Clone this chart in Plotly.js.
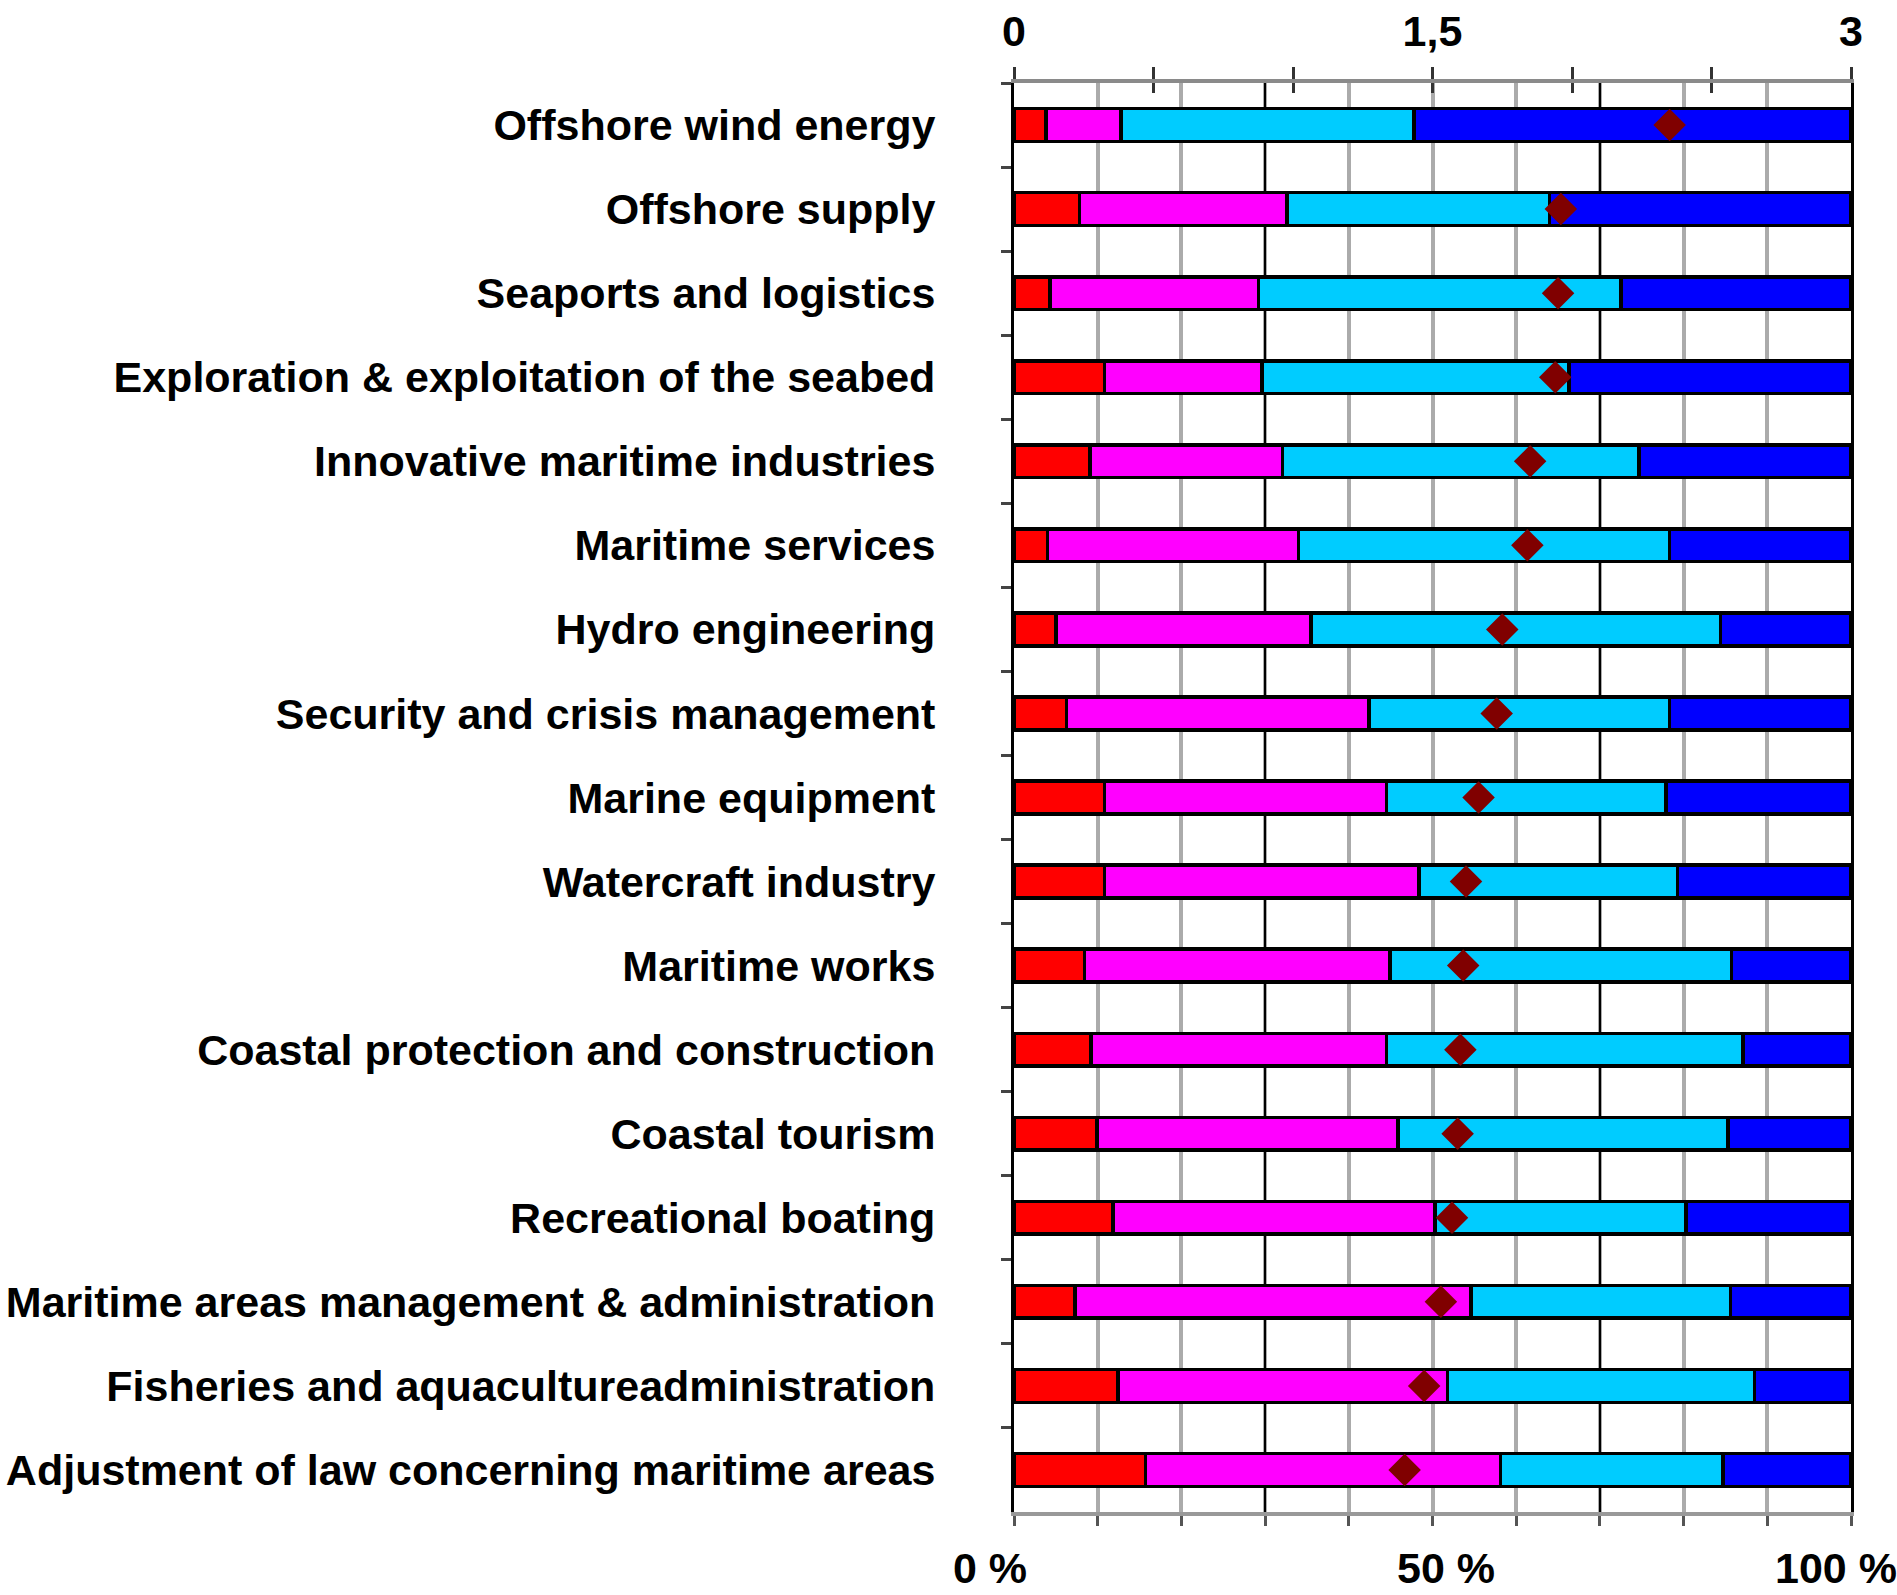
<!DOCTYPE html>
<html><head><meta charset="utf-8">
<script src="https://cdn.plot.ly/plotly-3.0.1.min.js"></script>
<style>html,body{margin:0;padding:0;background:#fff}#chart{width:1897px;height:1595px}</style>
</head><body><div id="chart"></div>
<script>
// ---- data ----
const categories = [
  "Offshore wind energy",
  "Offshore supply",
  "Seaports and logistics",
  "Exploration & exploitation of the seabed",
  "Innovative maritime industries",
  "Maritime services",
  "Hydro engineering",
  "Security and crisis management",
  "Marine equipment",
  "Watercraft industry",
  "Maritime works",
  "Coastal protection and construction",
  "Coastal tourism",
  "Recreational boating",
  "Maritime areas management & administration",
  "Fisheries and aquacultureadministration",
  "Adjustment of law concerning maritime areas"
];
// percentage shares of the four answer classes (red, magenta, cyan, blue)
const redShare     = [3.8, 7.8, 4.3, 10.8, 9.1, 4.0, 5.0, 6.3, 10.8, 10.8, 8.4, 9.2, 9.9, 11.8, 7.3, 12.4, 15.7];
const magentaShare = [9.0, 24.8, 24.9, 18.8, 23.0, 30.0, 30.5, 36.1, 33.7, 37.6, 36.5, 35.3, 36.0, 38.5, 47.3, 39.4, 42.4];
const cyanShare    = [35.0, 31.4, 43.3, 36.7, 42.6, 44.3, 48.9, 35.9, 33.4, 30.9, 40.8, 42.6, 39.4, 30.0, 31.0, 36.7, 26.6];
const blueShare    = [52.2, 36.0, 27.5, 33.7, 25.3, 21.7, 15.6, 21.7, 22.1, 20.7, 14.3, 12.9, 14.7, 19.7, 14.4, 11.5, 15.3];
// mean score on the 0..3 scale (top axis)
const meanScore    = [2.35, 1.96, 1.95, 1.94, 1.85, 1.84, 1.75, 1.73, 1.665, 1.62, 1.61, 1.60, 1.59, 1.57, 1.53, 1.47, 1.40];
// axis tick labels
const topTickVals  = [0, 0.5, 1, 1.5, 2, 2.5, 3];
const topTickText  = ["0", "", "", "1,5", "", "", "3"];
const bottomTickText = ["0 %", "50 %", "100 %"];
const blackGridVals = [30, 70];

// ---- styling ----
const FONT = "Liberation Sans, Arial, Helvetica, sans-serif";
const segColors = ["#FF0000", "#FF00FF", "#00CCFF", "#0000FF"];
const shares = [redShare, magentaShare, cyanShare, blueShare];

const traces = shares.map((vals, i) => ({
  type: "bar",
  orientation: "h",
  x: vals,
  y: categories,
  width: 0.39,
  marker: {color: segColors[i], line: {color: "#000000", width: 3.5}},
  hoverinfo: "skip",
  showlegend: false
}));

// invisible carriers for the overlay axes
traces.push({type: "scatter", x: [], y: [], xaxis: "x3", yaxis: "y", showlegend: false, hoverinfo: "skip"});
traces.push({type: "scatter", x: [], y: [], xaxis: "x4", yaxis: "y", showlegend: false, hoverinfo: "skip"});

traces.push({
  type: "scatter",
  mode: "markers",
  x: meanScore,
  y: categories,
  xaxis: "x2",
  yaxis: "y",
  marker: {symbol: "diamond", size: 25, color: "#800000", line: {width: 0}},
  cliponaxis: false,
  hoverinfo: "skip",
  showlegend: false
});

const tickFont = {family: FONT, size: 43, color: "#000000", weight: 700};

const layout = {
  width: 1897,
  height: 1595,
  margin: {l: 1014, r: 46, t: 83, b: 83, pad: 0},
  paper_bgcolor: "#ffffff",
  plot_bgcolor: "#ffffff",
  barmode: "stack",
  showlegend: false,
  xaxis: {
    range: [0, 100],
    tickvals: [0, 10, 20, 30, 40, 50, 60, 70, 80, 90, 100],
    showticklabels: false,
    ticks: "outside",
    ticklen: 10,
    tickwidth: 3,
    tickcolor: "#555555",
    showgrid: true,
    gridcolor: "#ababab",
    gridwidth: 4,
    zeroline: false,
    showline: true,
    linecolor: "#999999",
    linewidth: 4,
    fixedrange: true
  },
  xaxis2: {
    overlaying: "x",
    side: "top",
    anchor: "y",
    range: [0, 3],
    tickvals: topTickVals,
    ticktext: topTickText,
    ticks: "outside",
    ticklen: 12,
    tickwidth: 3,
    tickcolor: "#333333",
    ticklabelstandoff: 4,
    tickfont: tickFont,
    showgrid: false,
    zeroline: false,
    showline: true,
    linecolor: "#8a8a8a",
    linewidth: 4,
    fixedrange: true
  },
  xaxis3: {
    overlaying: "x",
    side: "bottom",
    anchor: "y",
    range: [0, 100],
    tickvals: blackGridVals,
    showticklabels: false,
    ticks: "",
    showgrid: true,
    gridcolor: "#000000",
    gridwidth: 2.5,
    zeroline: false,
    showline: false,
    fixedrange: true
  },
  xaxis4: {
    overlaying: "x",
    side: "top",
    anchor: "y",
    range: [0, 3],
    tickvals: topTickVals,
    showticklabels: false,
    ticks: "inside",
    ticklen: 10,
    tickwidth: 3,
    tickcolor: "#333333",
    showgrid: false,
    zeroline: false,
    showline: false,
    fixedrange: true
  },
  yaxis: {
    type: "category",
    range: [categories.length - 0.5, -0.5],
    autorange: false,
    ticks: "outside",
    tickson: "boundaries",
    ticklen: 10,
    tickwidth: 3,
    tickcolor: "#444444",
    ticklabelstandoff: 67,
    tickfont: tickFont,
    showgrid: false,
    zeroline: false,
    showline: true,
    mirror: true,
    linecolor: "#000000",
    linewidth: 3,
    fixedrange: true
  },
  shapes: [{
    type: "line", layer: "below",
    xref: "x", yref: "y",
    x0: 40, x1: 40, y0: 5.55, y1: 16.5,
    line: {color: "#000000", width: 2.5}
  }],
  annotations: bottomTickText.map((t, i) => ({
    xref: "paper", yref: "paper",
    x: [-0.029, 0.516, 0.982][i],
    y: -0.039,
    xanchor: "center", yanchor: "middle",
    text: t, showarrow: false,
    font: tickFont
  }))
};

Plotly.newPlot("chart", traces, layout, {staticPlot: true, displayModeBar: false});
</script>
</body></html>
